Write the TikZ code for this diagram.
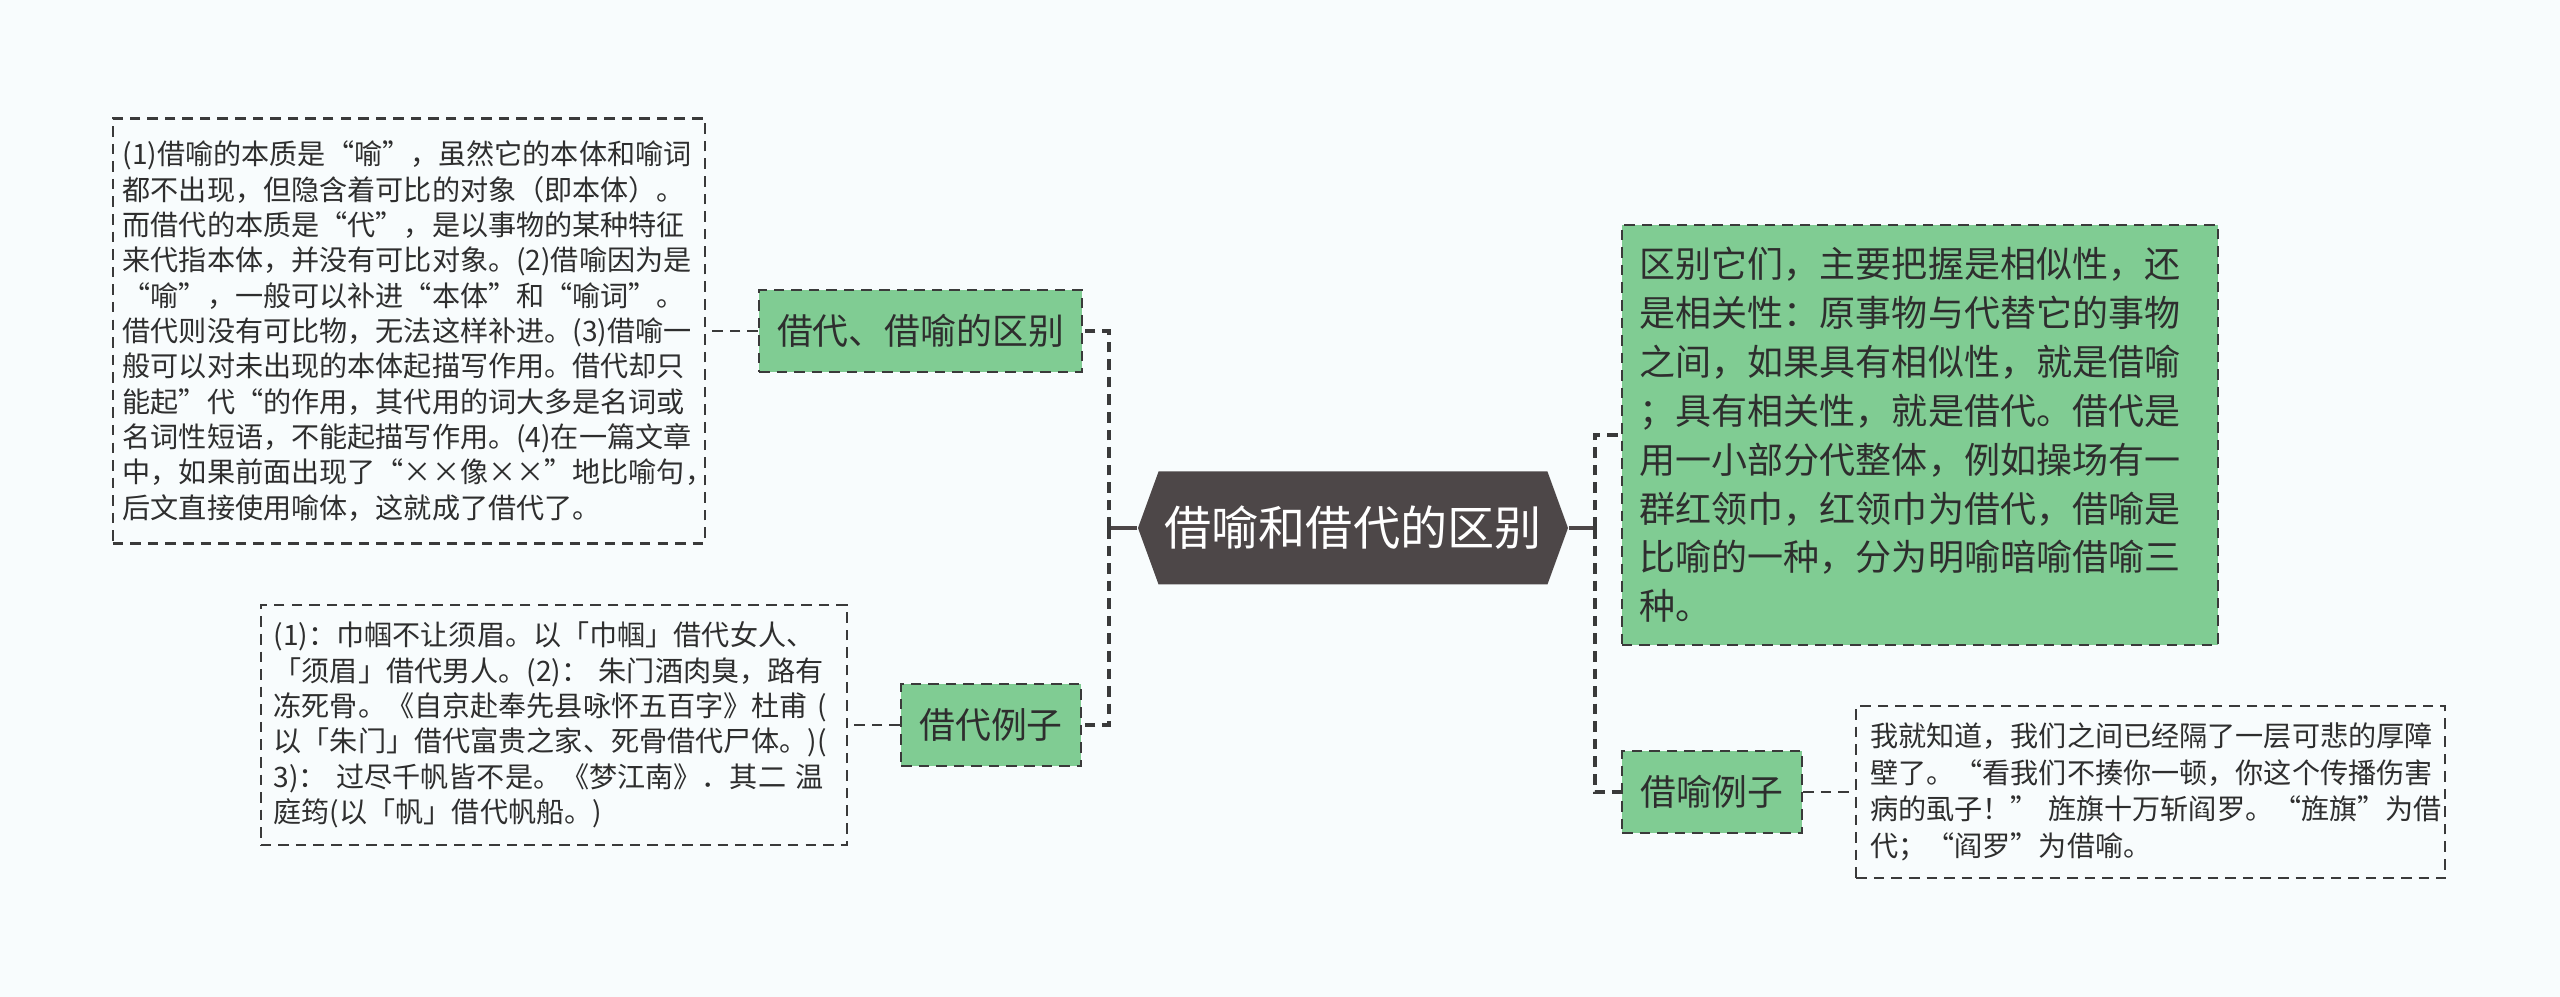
\documentclass[tikz,border=0pt]{standalone}
\usepackage{fontspec}
\setmainfont{Noto Sans CJK SC}
\usepackage{xcolor}
\usepackage{tikz}
\usetikzlibrary{shapes.symbols, positioning}

\definecolor{bgc}{HTML}{F8FCFD}
\definecolor{rootc}{HTML}{4D4748}
\definecolor{leafg}{HTML}{80CC93}
\definecolor{linec}{HTML}{3A3A3A}
\definecolor{textc}{HTML}{2E2E2E}

\begin{document}
\begin{tikzpicture}[
  root/.style={signal, signal to=west and east, signal pointer angle=140, fill=rootc, text=white, font=\fontsize{13.4}{15}\selectfont, minimum width=4.3cm, minimum height=1.13cm, inner sep=0pt},
  branch/.style={rectangle, draw=linec, dash pattern=on 3pt off 2pt, line width=0.7pt, fill=leafg, text=textc, font=\fontsize{10.2}{12}\selectfont, minimum height=0.82cm, inner xsep=0.17cm},
  note/.style={rectangle, draw=linec, dash pattern=on 3pt off 2pt, line width=0.6pt, align=left, text=textc, font=\fontsize{8.0}{10.05}\selectfont, inner xsep=0.13cm},
  link/.style={draw=linec, dash pattern=on 3pt off 2pt, line width=0.7pt},
  trunk/.style={draw=rootc, line width=1.1pt}
]
  \fill[bgc] (0,0) rectangle (25.6,-9.97);
  \useasboundingbox (0,0) rectangle (25.6,-9.97);

  \node[root] (root) at (13.53,-5.28) {借喻和借代的区别};
  \coordinate[left=0.28cm of root.west] (lj);
  \coordinate[right=0.26cm of root.east] (rj);

  % left side
  \node[branch, minimum width=3.23cm, left=0.54cm of root.west, yshift=1.97cm] (diff) {借代、借喻的区别};
  \node[branch, minimum width=1.8cm, left=0.55cm of root.west, yshift=-1.97cm] (jdex) {借代例子};
  \node[note, text width=5.72cm, inner xsep=0.1cm, minimum height=4.25cm, left=0.52cm of diff] (diffnote) {%
(1)借喻的本质是“喻”，虽然它的本体和喻词\\
都不出现，但隐含着可比的对象（即本体）。\\
而借代的本质是“代”，是以事物的某种特征\\
来代指本体，并没有可比对象。(2)借喻因为是\\
“喻”，一般可以补进“本体”和“喻词”。\\
借代则没有可比物，无法这样补进。(3)借喻一\\
般可以对未出现的本体起描写作用。借代却只\\
能起”代“的作用，其代用的词大多是名词或\\
名词性短语，不能起描写作用。(4)在一篇文章\\
中，如果前面出现了“××像××”地比喻句，\\
后文直接使用喻体，这就成了借代了。};
  \node[note, text width=5.6cm, minimum height=2.4cm, left=0.52cm of jdex] (jdnote) {%
(1)：巾帼不让须眉。以「巾帼」借代女人、\\
「须眉」借代男人。(2)：~朱门酒肉臭，路有\\
冻死骨。《自京赴奉先县咏怀五百字》杜甫~(\\
以「朱门」借代富贵之家、死骨借代尸体。)(\\
3)：~过尽千帆皆不是。《梦江南》．其二~温\\
庭筠(以「帆」借代帆船。)};

  % right side
  \node[note, fill=leafg, text width=5.6cm, inner xsep=0.18cm, minimum height=4.2cm, font=\fontsize{10.25}{13.9}\selectfont, right=0.52cm of root.east, yshift=0.93cm] (rule) {%
区别它们，主要把握是相似性，还\\
是相关性：原事物与代替它的事物\\
之间，如果具有相似性，就是借喻\\
；具有相关性，就是借代。借代是\\
用一小部分代整体，例如操场有一\\
群红领巾，红领巾为借代，借喻是\\
比喻的一种，分为明喻暗喻借喻三\\
种。};
  \node[branch, minimum width=1.8cm, right=0.52cm of root.east, yshift=-2.64cm] (jyex) {借喻例子};
  \node[note, text width=5.61cm, inner xsep=0.14cm, minimum height=1.72cm, font=\fontsize{8.0}{10.4}\selectfont, right=0.52cm of jyex] (jynote) {%
我就知道，我们之间已经隔了一层可悲的厚障\\
壁了。“看我们不揍你一顿，你这个传播伤害\\
病的虱子！”~旌旗十万斩阎罗。“旌旗”为借\\
代；“阎罗”为借喻。};

  \draw[trunk] (root.west) -- (lj);
  \draw[trunk] (root.east) -- (rj);
  \draw[link, line width=1.1pt] (lj) |- (diff.east);
  \draw[link, line width=1.1pt] (lj) |- (jdex.east);
  \draw[link, line width=1.1pt] (rj) |- (rule.west);
  \draw[link, line width=1.1pt] (rj) |- (jyex.west);
  \draw[link] (diff) -- (diffnote);
  \draw[link] (jdex) -- (jdnote);
  \draw[link] (jyex) -- (jynote);
\end{tikzpicture}
\end{document}
